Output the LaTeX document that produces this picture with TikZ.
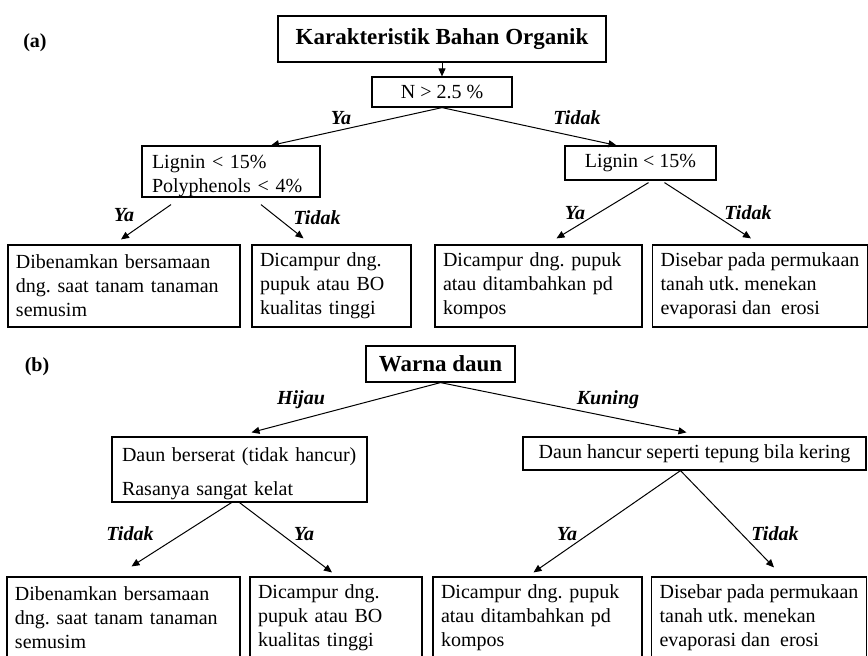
\documentclass[tikz,border=0pt]{standalone}
\usepackage{fontspec}
\setmainfont{Liberation Serif}
\frenchspacing
\usetikzlibrary{arrows.meta}
\tikzset{
  treebox/.style={draw, line width=0.6pt, inner sep=0pt, font=\fontsize{10}{12}\selectfont},
  treetitle/.style={treebox, font=\fontsize{11.5}{14}\selectfont\bfseries},
  treeleaf/.style={treebox, align=left, inner xsep=4pt, minimum height=41pt},
  treearrow/.style={-{Triangle[length=4pt,width=3.5pt]}, line width=0.5pt},
  treelabel/.style={font=\fontsize{10}{12}\selectfont\bfseries\itshape},
  treepanel/.style={font=\fontsize{10}{12}\selectfont\bfseries},
}

\begin{document}
\begin{tikzpicture}[x=0.5pt, y=-0.5pt]
  \useasboundingbox (0,0) rectangle (868,655);
  \clip (0,0) rectangle (868,655);
  % (a) karakteristik
  \node[treepanel] (panA) at (35,43) {(a)};
  \node[treetitle, minimum width=164pt, minimum height=23pt] (karak) at (442,39) {Karakteristik Bahan Organik};
  \node[treebox, minimum width=70pt, minimum height=15pt] (nitro) at (442,92) {N > 2.5 \%};
  \node[treebox, align=left, text width=79pt, inner xsep=5pt, minimum height=25.5pt] (ligA) at (231,171.5) {\rule{0pt}{11pt}Lignin < 15\%\\Polyphenols < 4\%};
  \node[treebox, minimum width=75.5pt, minimum height=17pt] (ligB) at (640.5,163) {Lignin < 15\%};
  \node[treeleaf, text width=108pt] (leafA1) at (124,286) {Dibenamkan bersamaan\\dng. saat tanam tanaman\\semusim};
  \node[treeleaf, text width=71.5pt] (leafA2) at (331.5,286) {Dicampur dng.\\pupuk atau BO\\kualitas tinggi};
  \node[treeleaf, text width=95.5pt] (leafA3) at (538.5,286) {Dicampur dng. pupuk\\atau ditambahkan pd\\kompos};
  \node[treeleaf, minimum width=106pt] (leafA4) at (760,286) {Disebar pada permukaan\\tanah utk. menekan\\evaporasi dan\ \ erosi};
  \draw[treearrow] (karak) -- (nitro);
  \draw[treearrow] (nitro.south) -- ([xshift=20pt]ligA.north);
  \draw[treearrow] (nitro.south) -- ([xshift=-12pt]ligB.north);
  \draw[treearrow] ([xshift=-30pt,yshift=-3.5pt]ligA.south) -- ([xshift=-1.5pt,yshift=2.5pt]leafA1.north);
  \draw[treearrow] ([xshift=15pt,yshift=-3.5pt]ligA.south) -- ([xshift=-14pt,yshift=3pt]leafA2.north);
  \draw[treearrow] ([xshift=4pt,yshift=-1pt]ligB.south) -- ([xshift=9pt,yshift=3pt]leafA3.north);
  \draw[treearrow] ([xshift=12pt,yshift=-1pt]ligB.south) -- ([xshift=-4.5pt,yshift=3pt]leafA4.north);
  \node[treelabel] (yaA0) at (341,118) {Ya};
  \node[treelabel] (tidakA0) at (577,118) {Tidak};
  \node[treelabel] (yaA1) at (124,215) {Ya};
  \node[treelabel] (tidakA1) at (317,218) {Tidak};
  \node[treelabel] (yaA2) at (575,213) {Ya};
  \node[treelabel] (tidakA2) at (748,213) {Tidak};
  % (b) warna daun
  \node[treepanel] (panB) at (37,367) {(b)};
  \node[treetitle, minimum width=74.5pt, minimum height=18pt] (warna) at (440.5,364) {Warna daun};
  \node[treebox, align=left, text width=117.5pt, inner xsep=5pt, minimum height=32.5pt] (serat) at (239.5,469.5) {\rule{0pt}{11pt}Daun berserat (tidak hancur)\\[5pt]Rasanya sangat kelat};
  \node[treebox, minimum width=171.5pt, minimum height=16.5pt] (hancur) at (694.5,453.5) {Daun hancur seperti tepung bila kering};
  \node[treeleaf, text width=108.5pt] (leafB1) at (123.5,618) {Dibenamkan bersamaan\\dng. saat tanam tanaman\\semusim};
  \node[treeleaf, text width=78pt] (leafB2) at (336,618) {Dicampur dng.\\pupuk atau BO\\kualitas tinggi};
  \node[treeleaf, text width=96.5pt] (leafB3) at (537.5,618) {Dicampur dng. pupuk\\atau ditambahkan pd\\kompos};
  \node[treeleaf, minimum width=107pt] (leafB4) at (759,618) {Disebar pada permukaan\\tanah utk. menekan\\evaporasi dan\ \ erosi};
  \draw[treearrow] (warna.south) -- ([xshift=6pt,yshift=2pt]serat.north);
  \draw[treearrow] (warna.south) -- ([xshift=-4pt,yshift=2pt]hancur.north);
  \draw[treearrow] ([xshift=-4pt]serat.south) -- ([xshift=4pt,yshift=5pt]leafB1.north);
  \draw[treearrow] (serat.south) -- ([xshift=-2pt,yshift=2pt]leafB2.north);
  \draw[treearrow] ([xshift=-7pt]hancur.south) -- ([xshift=-2pt,yshift=2pt]leafB3.north);
  \draw[treearrow] ([xshift=-7pt]hancur.south) -- ([xshift=7.5pt,yshift=4.5pt]leafB4.north);
  \node[treelabel] (hijau) at (301,400) {Hijau};
  \node[treelabel] (kuning) at (608,400) {Kuning};
  \node[treelabel] (tidakB1) at (130,534) {Tidak};
  \node[treelabel] (yaB1) at (304,534) {Ya};
  \node[treelabel] (yaB2) at (567,534) {Ya};
  \node[treelabel] (tidakB2) at (775,534) {Tidak};
\end{tikzpicture}
\end{document}
